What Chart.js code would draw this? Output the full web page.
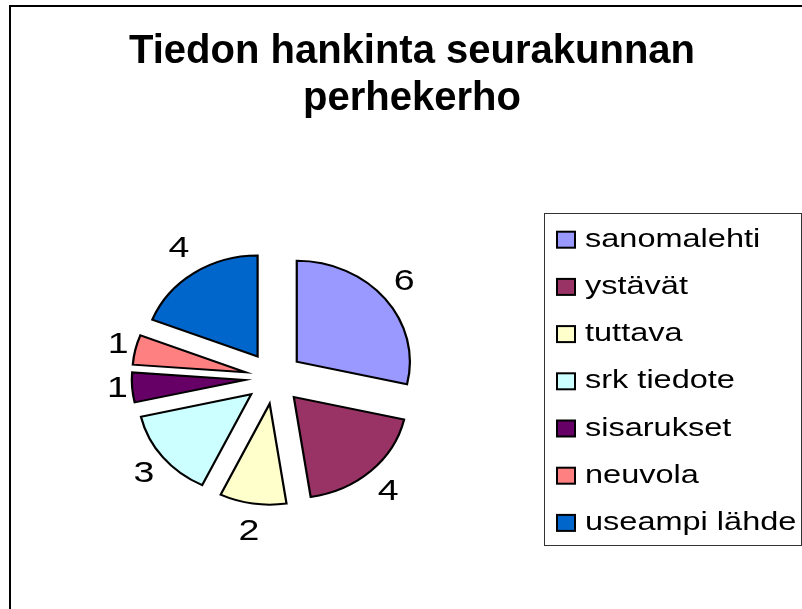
<!DOCTYPE html>
<html>
<head>
<meta charset="utf-8">
<script src="https://cdn.jsdelivr.net/npm/chart.js@4.4.0/dist/chart.umd.min.js"></script>
<style>
    html, body { margin: 0; padding: 0; background: #fff; }
    #wrap { width: 802px; height: 609px; }
</style>
</head>
<body>
<div id="wrap"><canvas id="pieChart"></canvas></div>
<script>
const titleLines = ['Tiedon hankinta seurakunnan', 'perhekerho'];
const categories = ['sanomalehti', 'ystävät', 'tuttava', 'srk tiedote', 'sisarukset', 'neuvola', 'useampi lähde'];
const counts = [6, 4, 2, 3, 1, 1, 4];
const sliceColors = ['#9999FF', '#993366', '#FFFFCC', '#CCFFFF', '#660066', '#FF8080', '#0066CC'];

// the old Excel picture is a bit wider than tall
const PIE_STRETCH = 1.12;
const LABEL_STRETCH = 1.08;
const TEXT_STRETCH = 1.25;
const EXPLODE = 26;
const FONT = '"Liberation Sans", Arial, sans-serif';

function wideText(ctx, text, x, y, sx) {
    ctx.save();
    ctx.translate(x, y);
    ctx.scale(sx, 1);
    ctx.fillText(text, 0, 0);
    ctx.restore();
}

const excelLook = {
    id: 'excelLook',
    beforeDraw(chart) {
        const ctx = chart.ctx;
        ctx.save();
        ctx.fillStyle = '#fff';
        ctx.fillRect(0, 0, chart.width, chart.height);
        // frame (right and bottom edges fall outside the picture)
        ctx.strokeStyle = '#000';
        ctx.lineWidth = 2;
        ctx.strokeRect(10, 6, chart.width + 20, chart.height + 20);
        // title
        ctx.fillStyle = '#000';
        ctx.font = 'bold 40px ' + FONT;
        ctx.textAlign = 'center';
        ctx.textBaseline = 'alphabetic';
        ctx.fillText(titleLines[0], 412, 63);
        ctx.fillText(titleLines[1], 412, 110);
        ctx.restore();
    },
    beforeDatasetsDraw(chart) {
        // exploded slices, drawn by the arc elements themselves
        const ctx = chart.ctx;
        chart.getDatasetMeta(0).data.forEach(arc => {
            const mid = (arc.startAngle + arc.endAngle) / 2;
            ctx.save();
            ctx.translate(arc.x, arc.y);
            ctx.scale(PIE_STRETCH, 1);
            ctx.translate(Math.cos(mid) * EXPLODE - arc.x, Math.sin(mid) * EXPLODE - arc.y);
            arc.draw(ctx);
            ctx.restore();
        });
        return false;
    },
    afterDraw(chart) {
        const ctx = chart.ctx;
        const values = chart.data.datasets[0].data;
        ctx.save();
        ctx.fillStyle = '#000';
        ctx.textAlign = 'center';
        ctx.textBaseline = 'alphabetic';
        ctx.font = '30px ' + FONT;
        // value labels outside the slices
        chart.getDatasetMeta(0).data.forEach((arc, i) => {
            const mid = (arc.startAngle + arc.endAngle) / 2;
            const ux = Math.cos(mid), uy = Math.sin(mid);
            const r = 136 + 8 * Math.abs(ux) + 19 * Math.abs(uy);
            const x = arc.x + LABEL_STRETCH * ux * r;
            const y = arc.y + uy * r;
            wideText(ctx, String(values[i]), x, y + 8, TEXT_STRETCH);
        });

        // legend
        ctx.strokeStyle = '#333';
        ctx.lineWidth = 1;
        ctx.strokeRect(544.5, 213.5, 257, 332);
        ctx.textAlign = 'left';
        ctx.font = '26px ' + FONT;
        chart.data.labels.forEach((label, i) => {
            const cy = 239.7 + i * 47.2;
            ctx.fillStyle = chart.data.datasets[0].backgroundColor[i];
            ctx.fillRect(557, cy - 8, 18, 16);
            ctx.strokeStyle = '#000';
            ctx.lineWidth = 2;
            ctx.strokeRect(557, cy - 8, 18, 16);
            ctx.fillStyle = '#000';
            wideText(ctx, label, 585, cy + 7, TEXT_STRETCH);
        });
        ctx.restore();
    }
};

document.addEventListener('DOMContentLoaded', function() {
    const ctx = document.getElementById('pieChart').getContext('2d');
    new Chart(ctx, {
        type: 'pie',
        data: {
            labels: categories,
            datasets: [{
                data: counts,
                backgroundColor: sliceColors,
                borderColor: '#000',
                borderWidth: 2,
                borderJoinStyle: 'miter',
                radius: 101
            }]
        },
        options: {
            responsive: true,
            maintainAspectRatio: false,
            animation: false,
            layout: { padding: { left: 0, right: 254, top: 150, bottom: 3 } },
            plugins: {
                legend: { display: false },
                title: { display: false },
                tooltip: { enabled: false }
            }
        },
        plugins: [excelLook]
    });
});
</script>
</body>
</html>
